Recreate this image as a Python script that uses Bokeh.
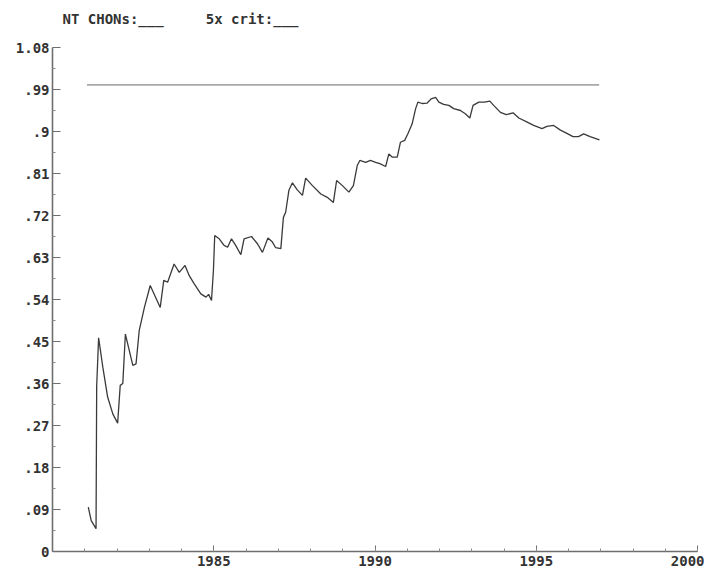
from bokeh.plotting import figure
from bokeh.models import FixedTicker, Range1d, Title
from bokeh.embed import file_html
from bokeh.resources import INLINE

# Monthly-ish ratio series, 1981-1997
years = [
    1981.11, 1981.20, 1981.35, 1981.37, 1981.43, 1981.56, 1981.71, 1981.87,
    1982.02, 1982.10, 1982.18, 1982.26, 1982.38, 1982.49, 1982.59, 1982.69,
    1982.85, 1983.03, 1983.15, 1983.34, 1983.45, 1983.57, 1983.77, 1983.93,
    1984.11, 1984.24, 1984.39, 1984.60, 1984.76, 1984.84, 1984.93, 1984.99,
    1985.03, 1985.17, 1985.32, 1985.43, 1985.55, 1985.68, 1985.84, 1985.94,
    1986.17, 1986.36, 1986.51, 1986.68, 1986.82, 1986.92, 1987.08, 1987.16,
    1987.23, 1987.33, 1987.44, 1987.59, 1987.75, 1987.85, 1988.06, 1988.32,
    1988.52, 1988.71, 1988.81, 1988.99, 1989.19, 1989.33, 1989.45, 1989.53,
    1989.71, 1989.86, 1990.02, 1990.15, 1990.33, 1990.43, 1990.54, 1990.69,
    1990.79, 1990.92, 1991.02, 1991.15, 1991.26, 1991.33, 1991.46, 1991.62,
    1991.74, 1991.88, 1991.98, 1992.13, 1992.29, 1992.44, 1992.65, 1992.80,
    1992.94, 1993.04, 1993.22, 1993.39, 1993.56, 1993.68, 1993.89, 1994.07,
    1994.28, 1994.46, 1994.72, 1994.92, 1995.18, 1995.33, 1995.54, 1995.75,
    1995.95, 1996.14, 1996.31, 1996.47, 1996.67, 1996.96,
]
values = [
    0.095, 0.066, 0.049, 0.354, 0.458, 0.395, 0.331, 0.295,
    0.275, 0.356, 0.360, 0.466, 0.431, 0.399, 0.402, 0.474,
    0.523, 0.570, 0.552, 0.523, 0.581, 0.577, 0.616, 0.598,
    0.613, 0.591, 0.574, 0.552, 0.545, 0.551, 0.538, 0.602,
    0.677, 0.670, 0.656, 0.652, 0.670, 0.656, 0.636, 0.670,
    0.675, 0.659, 0.641, 0.672, 0.663, 0.651, 0.649, 0.716,
    0.727, 0.774, 0.790, 0.775, 0.763, 0.800, 0.784, 0.766,
    0.759, 0.748, 0.795, 0.784, 0.770, 0.784, 0.827, 0.838,
    0.834, 0.838, 0.834, 0.831, 0.825, 0.852, 0.845, 0.845,
    0.877, 0.881, 0.895, 0.916, 0.949, 0.963, 0.960, 0.961,
    0.970, 0.973, 0.963, 0.958, 0.956, 0.949, 0.945, 0.938,
    0.929, 0.956, 0.963, 0.963, 0.965, 0.956, 0.941, 0.936,
    0.940, 0.929, 0.920, 0.913, 0.906, 0.911, 0.913, 0.903,
    0.896, 0.889, 0.889, 0.895, 0.889, 0.882,
]

# Reference level drawn across the series span
ref_years = [1981.07, 1996.95]
ref_level = [1.0, 1.0]

y_ticks = [0, 0.09, 0.18, 0.27, 0.36, 0.45, 0.54, 0.63, 0.72, 0.81, 0.9, 0.99, 1.08]
y_tick_labels = ["0", ".09", ".18", ".27", ".36", ".45", ".54", ".63", ".72",
                 ".81", ".9", ".99", "1.08"]
y_minor = [0.045, 0.135, 0.225, 0.315, 0.405, 0.495, 0.585, 0.675, 0.765,
           0.855, 0.945, 1.035]
x_ticks = [1985, 1990, 1995, 2000]
x_minor = list(range(1981, 2001))

header_left = "NT CHONs:___"
header_right = "5x crit:___"

FONT = "DejaVu Sans Mono"
INK = "#333333"
SIZE = "14px"

p = figure(width=704, height=571, output_backend="svg", toolbar_location=None,
           x_range=Range1d(1980, 2000), y_range=Range1d(0, 1.08),
           min_border_left=52, min_border_right=7,
           min_border_top=47, min_border_bottom=20)
p.outline_line_color = None
p.background_fill_color = "white"
p.border_fill_color = "white"
p.xgrid.visible = False
p.ygrid.visible = False

p.line(ref_years, ref_level, line_color="#a8a8a8", line_width=1.6)
p.line(years, values, line_color="#3a3a3a", line_width=1.3)

# Axes: ticks point into the plot, labels in a bold monospace face
for ax in (p.xaxis[0], p.yaxis[0]):
    ax.axis_line_color = "#6e6e6e"
    ax.axis_line_width = 1.6
    ax.major_tick_line_color = "#6e6e6e"
    ax.minor_tick_line_color = "#8a8a8a"
    ax.major_tick_out = 0
    ax.minor_tick_out = 0
    ax.major_label_text_font = FONT
    ax.major_label_text_font_style = "bold"
    ax.major_label_text_font_size = SIZE
    ax.major_label_text_color = INK

p.xaxis.ticker = FixedTicker(ticks=x_ticks, minor_ticks=x_minor)
p.xaxis.major_tick_in = 6
p.xaxis.minor_tick_in = 3
p.xaxis.major_label_text_align = "right"
p.xaxis.major_label_standoff = 4

p.yaxis.ticker = FixedTicker(ticks=y_ticks, minor_ticks=y_minor)
p.yaxis.major_label_overrides = dict(zip(y_ticks, y_tick_labels))
p.yaxis.major_tick_in = 8
p.yaxis.minor_tick_in = 3
p.yaxis.major_label_standoff = 3

# Header line near the top edge: a blank second line lifts it clear of the frame;
# non-breaking spaces keep the gap between the two fields intact
gap = "\u00a0" * 5
header = Title(text=header_left + gap + header_right + "\n\u00a0",
               align="left", offset=10, standoff=10,
               text_font=FONT, text_font_style="bold",
               text_font_size=SIZE, text_color=INK)
p.add_layout(header, "above")

open("out.html", "w").write(file_html(p, INLINE))
